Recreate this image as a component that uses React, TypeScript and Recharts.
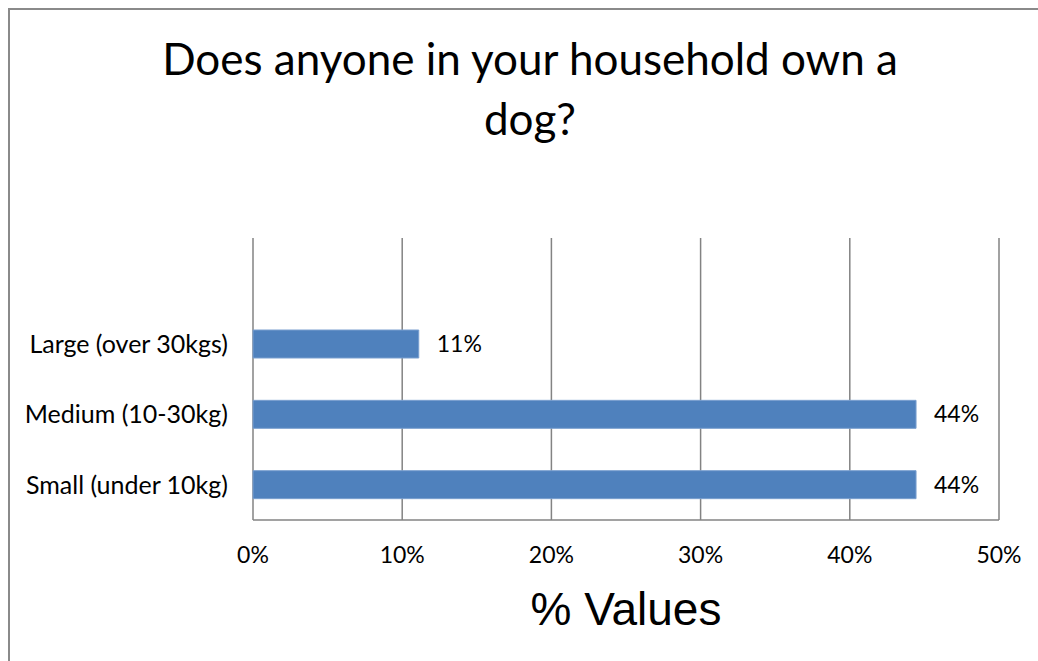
import React from 'react';
import { BarChart, Bar, XAxis, YAxis, CartesianGrid, LabelList } from 'recharts';

const categories = ['Large (over 30kgs)', 'Medium (10-30kg)', 'Small (under 10kg)'];
const values = [0.1111, 0.4444, 0.4444];
const xTicks = [0, 0.1, 0.2, 0.3, 0.4, 0.5];
const titleLines = ['Does anyone in your household own a', 'dog?'];
const axisTitle = '% Values';

const data = categories.map((c, i) => ({ name: c, value: values[i] }));

const FONT = 'Lato, "Open Sans", sans-serif';
const pct = (v: number) => `${Math.round(v * 100)}%`;

export default function App() {
  return (
    <div
      style={{
        position: 'fixed',
        left: 8,
        top: 8,
        width: 1100,
        height: 700,
        borderLeft: '2px solid #8a8a8a',
        borderTop: '2px solid #8a8a8a',
        background: '#fff',
      }}
    >
      <svg width={1028} height={160} style={{ position: 'absolute', left: 0, top: 0 }}>
        {titleLines.map((t, i) => (
          <text
            key={i}
            x={520}
            y={65 + i * 60}
            textAnchor="middle"
            fontFamily={FONT}
            fontSize={44}
            fill="#000"
          >
            {t}
          </text>
        ))}
      </svg>
      <div style={{ position: 'absolute', left: 0, top: 0 }}>
        <BarChart
          width={1028}
          height={651}
          data={data}
          layout="vertical"
          margin={{ top: 228, right: 39, bottom: 111, left: 0 }}
          barSize={28}
        >
          <CartesianGrid horizontal={false} vertical stroke="#838383" strokeWidth={1.5} />
          <XAxis
            type="number"
            domain={[0, 0.5]}
            ticks={xTicks}
            tickFormatter={pct}
            axisLine={{ stroke: '#838383', strokeWidth: 1.5 }}
            tickLine={false}
            tickSize={0}
            tickMargin={27}
            height={30}
            tick={{ fill: '#000', fontSize: 23, fontFamily: FONT }}
            label={{
              value: axisTitle,
              position: 'bottom',
              offset: 42,
              fill: '#000',
              fontSize: 46,
              fontFamily: '"Liberation Sans", Arial, sans-serif',
            }}
          />
          <YAxis
            type="category"
            dataKey="name"
            width={243}
            padding={{ top: 71, bottom: 0 }}
            axisLine={false}
            tickLine={false}
            tickSize={0}
            tickMargin={25}
            tick={{ fill: '#000', fontSize: 25, fontFamily: FONT }}
          />
          <Bar dataKey="value" fill="#4F81BD" stroke="#7a9fcf" strokeWidth={1} isAnimationActive={false}>
            <LabelList
              dataKey="value"
              position="right"
              offset={18}
              formatter={(v: any) => pct(Number(v))}
              fill="#000"
              fontSize={23}
              fontFamily={FONT}
            />
          </Bar>
        </BarChart>
      </div>
    </div>
  );
}
